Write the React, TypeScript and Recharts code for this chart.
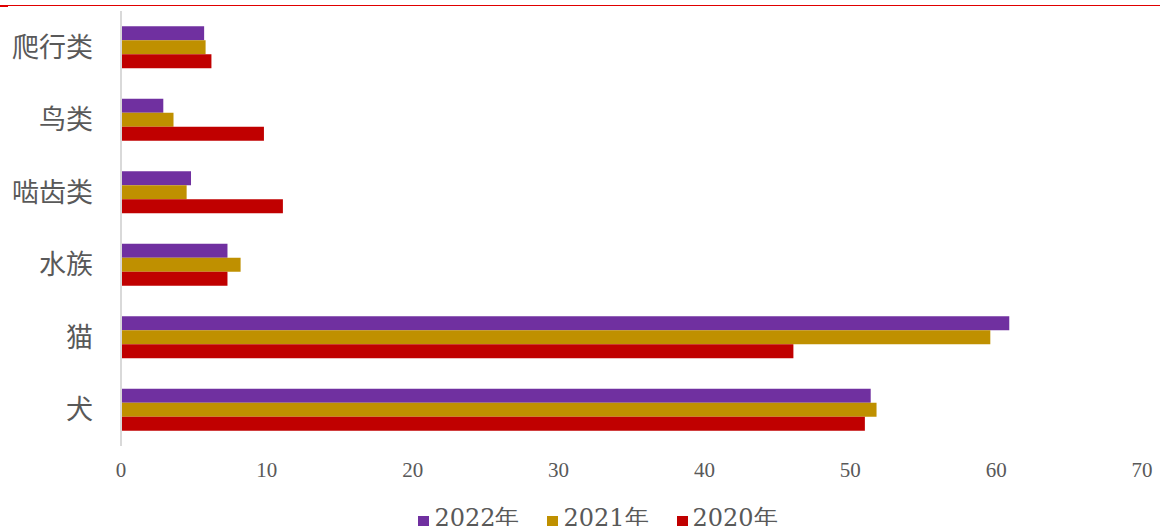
import React from "react";
import { BarChart, Bar, XAxis, YAxis, Legend } from "recharts";

const categories = ["爬行类", "鸟类", "啮齿类", "水族", "猫", "犬"];
const values2022 = [5.7, 2.9, 4.8, 7.3, 60.9, 51.4];
const values2021 = [5.8, 3.6, 4.5, 8.2, 59.6, 51.8];
const values2020 = [6.2, 9.8, 11.1, 7.3, 46.1, 51.0];
const xTicks = [0, 10, 20, 30, 40, 50, 60, 70];

const seriesNames = ["2022年", "2021年", "2020年"];
const seriesColors = ["#7030A0", "#BF9000", "#C00000"];

const data = categories.map((c, i) => ({
  name: c,
  s2022: values2022[i],
  s2021: values2021[i],
  s2020: values2020[i],
}));

const LegendContent = () => (
  <div
    style={{
      display: "flex",
      justifyContent: "center",
      alignItems: "center",
      fontFamily: "'DejaVu Serif', serif",
      fontSize: 24,
      color: "#595959",
      paddingLeft: 54,
    }}
  >
    {seriesNames.map((n, i) => (
      <div key={n} style={{ display: "flex", alignItems: "center", marginRight: i < 2 ? 28 : 0 }}>
        <span
          style={{
            display: "inline-block",
            width: 11,
            height: 11,
            background: seriesColors[i],
            marginRight: 5,
            marginTop: 6,
          }}
        />
        <span>{n}</span>
      </div>
    ))}
  </div>
);

export default function App() {
  return (
    <div style={{ position: "absolute", left: 0, top: 0, width: 1160, height: 526, background: "#fff", overflow: "hidden" }}>
      <div style={{ position: "absolute", left: 8, top: 5, width: 1152, height: 1, background: "#E00000" }} />
      <div style={{ position: "absolute", left: 0, top: 5, width: 8, height: 2, background: "#E00000" }} />
      <BarChart
        width={1160}
        height={540}
        layout="vertical"
        data={data}
        margin={{ top: 11, right: 18, left: 0, bottom: 0 }}
        barCategoryGap="21%"
        barGap={0}
      >
        <XAxis
          type="number"
          domain={[0, 70]}
          ticks={xTicks}
          axisLine={false}
          tickLine={false}
          height={56}
          tick={{ fill: "#595959", fontSize: 21, fontFamily: "'Liberation Serif', serif" }}
          tickMargin={10}
        />
        <YAxis
          type="category"
          dataKey="name"
          width={121}
          axisLine={{ stroke: "#D9D9D9", strokeWidth: 2 }}
          tickLine={false}
          tickMargin={22}
          tick={{ fill: "#595959", fontSize: 27, fontFamily: "'Noto Sans CJK SC', sans-serif" }}
        />
        <Legend verticalAlign="bottom" height={38} content={<LegendContent />} />
        <Bar dataKey="s2022" name="2022年" fill={seriesColors[0]} isAnimationActive={false} />
        <Bar dataKey="s2021" name="2021年" fill={seriesColors[1]} isAnimationActive={false} />
        <Bar dataKey="s2020" name="2020年" fill={seriesColors[2]} isAnimationActive={false} />
      </BarChart>
    </div>
  );
}
